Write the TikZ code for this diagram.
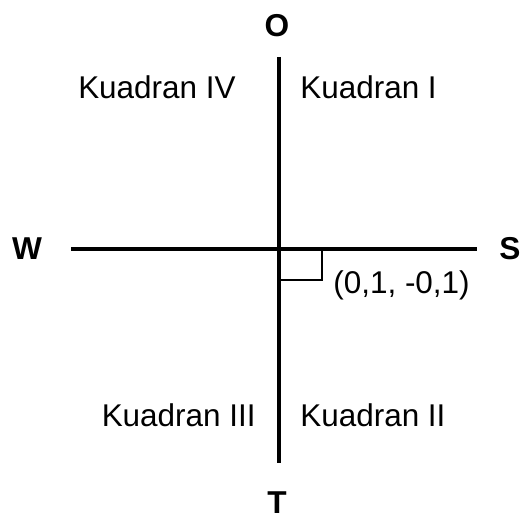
\documentclass[tikz,border=0pt]{standalone}
\usepackage{tikz}
\usetikzlibrary{positioning}
\usepackage{xcolor}
\usepackage{fontspec}
\setmainfont{Liberation Sans}
\definecolor{axisblack}{RGB}{0,0,0}

\tikzset{
  arah/.style={font=\fontsize{18}{20}\selectfont\bfseries,inner sep=0pt},
  kuadran/.style={font=\fontsize{17.9}{20}\selectfont,inner sep=0pt},
  sumbu/.style={draw=axisblack,line width=1.9pt}
}

\begin{document}
\begin{tikzpicture}
        \useasboundingbox (0,0) rectangle (10.4,10.36);
        % axis ends
        \coordinate (pusat) at (5.58,5.38);
        \coordinate (atas) at (5.58,9.22);
        \coordinate (bawah) at (5.58,1.10);
        \coordinate (kiri) at (1.42,5.38);
        \coordinate (kanan) at (9.54,5.38);
        \coordinate (siku) at (6.44,4.76);
        \draw[sumbu] (atas) -- (bawah);
        \draw[sumbu] (kiri) -- (kanan);
        \draw[line width=0.6pt] (pusat -| siku) -- (siku) -- (siku -| pusat);
        % compass letters
        \node[arah] (utara) at (5.54,9.84) {O};
        \node[arah] (selatan) at (5.54,0.3) {T};
        \node[arah] (barat) at (0.54,5.38) {W};
        \node[arah,anchor=west] (timur) at (9.98,5.38) {S};
        % quadrant names
        \node[kuadran,anchor=base east] (k4) at (4.72,8.38) {Kuadran IV};
        \node[kuadran,anchor=base west] (k1) at (6.0,8.38) {Kuadran I};
        \node[kuadran,anchor=base east] (k3) at (5.12,1.84) {Kuadran III};
        \node[kuadran,anchor=base west] (k2) at (6.0,1.84) {Kuadran II};
        \node[kuadran,anchor=base west] (titik) at (6.66,4.5) {(0,1, -0,1)};
      \end{tikzpicture}
\end{document}
